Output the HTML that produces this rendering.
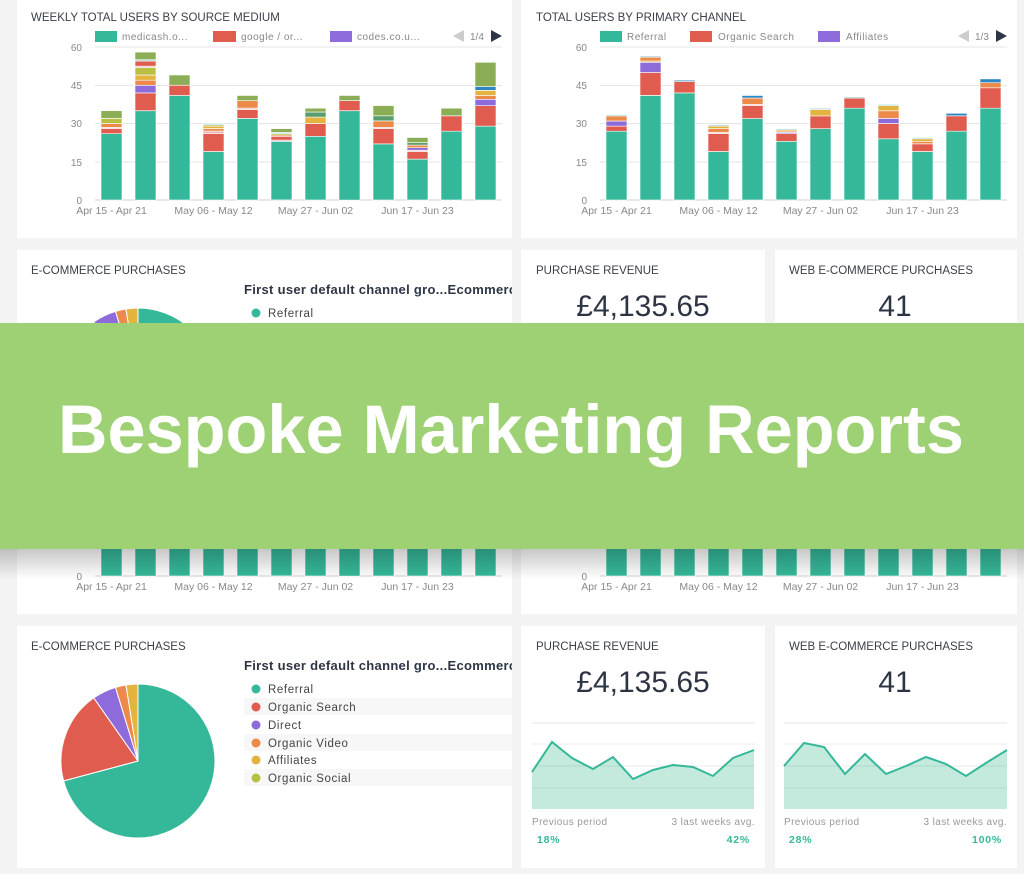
<!DOCTYPE html>
<html><head><meta charset="utf-8"><style>
html,body{margin:0;padding:0}
body{width:1024px;height:874px;overflow:hidden;background:#f3f3f3;position:relative;font-family:"Liberation Sans",sans-serif}
.copy{position:absolute;left:0;width:1024px;height:498px}
.copy svg{position:absolute;left:0;top:0;overflow:visible}
#banner{position:absolute;left:0;top:323px;width:1024px;height:226px;background:#9dd174}
#shadow{position:absolute;left:0;top:549px;width:1024px;height:30px;background:linear-gradient(rgba(0,0,0,0.22),rgba(0,0,0,0))}
</style></head><body>
<div class="copy" id="copyB" style="top:376px">
<svg width="1024" height="498" viewBox="0 0 1024 498" font-family="Liberation Sans, sans-serif">
<defs><clipPath id="cp3"><rect x="17" y="250" width="495" height="242"/></clipPath></defs>
<rect x="17" y="-30" width="495" height="268" fill="#fff"/>
<rect x="521" y="-30" width="496" height="268" fill="#fff"/>
<rect x="17" y="250" width="495" height="242" fill="#fff"/>
<rect x="521" y="250" width="244" height="242" fill="#fff"/>
<rect x="775" y="250" width="242" height="242" fill="#fff"/>
<g fill="#3a3f48" font-size="11.5">
<text x="31" y="21">WEEKLY TOTAL USERS BY SOURCE MEDIUM</text>
<text x="536" y="21">TOTAL USERS BY PRIMARY CHANNEL</text>
<text x="31" y="274">E-COMMERCE PURCHASES</text>
<text x="536" y="274">PURCHASE REVENUE</text>
<text x="789" y="274">WEB E-COMMERCE PURCHASES</text>
</g>
<g stroke="#e6e6e6">
<line x1="95" x2="502" y1="47" y2="47"/><line x1="95" x2="502" y1="85.5" y2="85.5"/><line x1="95" x2="502" y1="123.5" y2="123.5"/><line x1="95" x2="502" y1="162" y2="162"/>
<line x1="600" x2="1007" y1="47" y2="47"/><line x1="600" x2="1007" y1="85.5" y2="85.5"/><line x1="600" x2="1007" y1="123.5" y2="123.5"/><line x1="600" x2="1007" y1="162" y2="162"/>
</g>
<g stroke="#d0d0d0"><line x1="95" x2="502" y1="200" y2="200"/><line x1="600" x2="1007" y1="200" y2="200"/></g>
<g fill="#888" font-size="10" text-anchor="end">
<text x="82" y="51">60</text><text x="82" y="89">45</text><text x="82" y="127">30</text><text x="82" y="166">15</text><text x="82" y="204">0</text>
<text x="587" y="51">60</text><text x="587" y="89">45</text><text x="587" y="127">30</text><text x="587" y="166">15</text><text x="587" y="204">0</text>
</g>
<g fill="#888" font-size="10.5" text-anchor="middle">
<text x="111.5" y="214">Apr 15 - Apr 21</text><text x="213.5" y="214">May 06 - May 12</text><text x="315.5" y="214">May 27 - Jun 02</text><text x="417.5" y="214">Jun 17 - Jun 23</text>
<text x="616.5" y="214">Apr 15 - Apr 21</text><text x="718.5" y="214">May 06 - May 12</text><text x="820.5" y="214">May 27 - Jun 02</text><text x="922.5" y="214">Jun 17 - Jun 23</text>
</g>
<g font-size="10" fill="#888" letter-spacing="0.5">
<rect x="95" y="31" width="22" height="11" fill="#35b899"/><text x="122" y="40">medicash.o...</text>
<rect x="213" y="31" width="23" height="11" fill="#e05c4f"/><text x="241" y="40">google / or...</text>
<rect x="330" y="31" width="22" height="11" fill="#8e6bdb"/><text x="357" y="40">codes.co.u...</text>
<rect x="600" y="31" width="22" height="11" fill="#35b899"/><text x="627" y="40">Referral</text>
<rect x="690" y="31" width="22" height="11" fill="#e05c4f"/><text x="718" y="40">Organic Search</text>
<rect x="818" y="31" width="22" height="11" fill="#8e6bdb"/><text x="846" y="40">Affiliates</text>
<text x="470" y="40" letter-spacing="0">1/4</text><text x="975" y="40" letter-spacing="0">1/3</text>
</g>
<polygon points="453,36 464,30 464,42" fill="#ccc"/><polygon points="502,36 491,30 491,42" fill="#2d3545"/>
<polygon points="958,36 969,30 969,42" fill="#ccc"/><polygon points="1007,36 996,30 996,42" fill="#2d3545"/>
<g id="bars"></g>
<g stroke="#fff" stroke-width="1">
<path d="M138 385 L138 308 A77 77 0 1 1 63.6 404.9 Z" fill="#35b899"/>
<path d="M138 385 L63.6 404.9 A77 77 0 0 1 93.8 321.9 Z" fill="#e05c4f"/>
<path d="M138 385 L93.8 321.9 A77 77 0 0 1 115.5 311.4 Z" fill="#8e6bdb"/>
<path d="M138 385 L115.5 311.4 A77 77 0 0 1 126 309 Z" fill="#ec8a4a"/>
<path d="M138 385 L126 309 A77 77 0 0 1 138 308 Z" fill="#e3b440"/>
</g>
<g clip-path="url(#cp3)">
<rect x="244" y="322" width="268" height="17" fill="#f7f7f7"/>
<rect x="244" y="358" width="268" height="17" fill="#f7f7f7"/>
<rect x="244" y="393" width="268" height="17" fill="#f7f7f7"/>
<text x="244" y="294" font-size="13" font-weight="bold" fill="#2d3545" letter-spacing="0.3">First user default channel gro...Ecommerce</text>
<g font-size="11.5" fill="#444" letter-spacing="0.6">
<circle cx="256" cy="313" r="4.5" fill="#35b899"/><text x="268" y="317">Referral</text>
<circle cx="256" cy="331" r="4.5" fill="#e05c4f"/><text x="268" y="335">Organic Search</text>
<circle cx="256" cy="349" r="4.5" fill="#8e6bdb"/><text x="268" y="353">Direct</text>
<circle cx="256" cy="367" r="4.5" fill="#ec8a4a"/><text x="268" y="371">Organic Video</text>
<circle cx="256" cy="384" r="4.5" fill="#e3b440"/><text x="268" y="388">Affiliates</text>
<circle cx="256" cy="402" r="4.5" fill="#b8c043"/><text x="268" y="406">Organic Social</text>
</g></g>
<g font-size="30" fill="#2d3545" text-anchor="middle"><text x="643" y="316">£4,135.65</text><text x="895" y="316">41</text></g>
<g stroke="#e4e4e4"><line x1="532" x2="755" y1="347" y2="347"/><line x1="784" x2="1007" y1="347" y2="347"/></g>
<polygon points="532,433 532,396 552,366 572,382 593,393 613,381 633,403 653,394 673,389 693,391 713,400 733,382 754,374 754,433" fill="#c3eadd"/>
<polygon points="784,433 784,390 804,367 824,371 845,398 865,378 886,398 906,390 926,381 946,388 966,400 986,387 1007,374 1007,433" fill="#c3eadd"/>
<g stroke="rgba(0,0,0,0.08)"><line x1="532" x2="755" y1="368" y2="368"/><line x1="532" x2="755" y1="390" y2="390"/><line x1="532" x2="755" y1="412" y2="412"/>
<line x1="784" x2="1007" y1="368" y2="368"/><line x1="784" x2="1007" y1="390" y2="390"/><line x1="784" x2="1007" y1="412" y2="412"/></g>
<polyline points="532,396 552,366 572,382 593,393 613,381 633,403 653,394 673,389 693,391 713,400 733,382 754,374" fill="none" stroke="#35b899" stroke-width="2"/>
<polyline points="784,390 804,367 824,371 845,398 865,378 886,398 906,390 926,381 946,388 966,400 986,387 1007,374" fill="none" stroke="#35b899" stroke-width="2"/>
<g font-size="10" fill="#999" letter-spacing="0.4">
<text x="532" y="449">Previous period</text><text x="755" y="449" text-anchor="end">3 last weeks avg.</text>
<text x="784" y="449">Previous period</text><text x="1007" y="449" text-anchor="end">3 last weeks avg.</text>
</g>
<g font-size="10.5" font-weight="bold" fill="#35b899" letter-spacing="0.8">
<text x="537" y="467">18%</text><text x="750" y="467" text-anchor="end">42%</text>
<text x="789" y="467">28%</text><text x="1002" y="467" text-anchor="end">100%</text>
</g>
</svg>
</div>
<div id="banner"></div>
<div id="shadow"></div>
<svg style="position:absolute;left:0;top:0" width="1024" height="874"><text x="511" y="453" text-anchor="middle" font-family="Liberation Sans, sans-serif" font-weight="bold" font-size="68.5" fill="#fff">Bespoke Marketing Reports</text></svg>
<script>
var C={t:"#35b899",r:"#e05c4f",p:"#8e6bdb",o:"#ec8a4a",y:"#e3b440",g:"#b8c043",v:"#8aad55",b:"#2c86c4",k:"#e8b3b8",l:"#9fd3d8",d:"#5a9e6e"};
var L=[[["t",26],["r",2],["k",.5],["o",1.5],["g",2],["v",3]],
[["t",35],["r",7],["p",3],["o",2],["y",2],["g",3],["k",.5],["r",2],["l",.5],["v",3]],
[["t",41],["r",4],["v",4]],
[["t",19],["r",7],["k",1],["o",1],["y",1],["g",.5],["l",.5]],
[["t",32],["r",3.5],["k",.5],["o",3],["v",2]],
[["t",23],["k",.5],["r",1.5],["o",.5],["g",.5],["l",.5],["v",1.5]],
[["t",25],["r",5],["y",2.5],["d",2],["v",1.5]],
[["t",35],["r",4],["v",2]],
[["t",22],["r",6],["k",.5],["o",2.5],["d",2],["v",4]],
[["t",16],["r",3],["k",.5],["p",1],["o",1],["d",1],["v",2]],
[["t",27],["r",6],["v",3]],
[["t",29],["r",8],["p",2.5],["o",1.5],["y",2],["b",1.5],["v",9.5]]];
var R=[[["t",27],["r",2],["p",2],["o",2],["l",.5]],
[["t",41],["r",9],["p",4],["y",.5],["o",1.5],["l",.5]],
[["t",42],["r",4.5],["b",.5]],
[["t",19],["r",7],["k",.5],["o",1.5],["y",1],["l",.5]],
[["t",32],["r",5],["k",.5],["o",2.5],["b",1]],
[["t",23],["r",3],["p",.5],["o",.5],["y",.5],["l",.5]],
[["t",28],["r",5],["y",2.5],["l",.5]],
[["t",36],["r",4],["l",.5]],
[["t",24],["r",6],["p",2],["o",3],["y",2],["l",.5]],
[["t",19],["r",3],["o",1],["y",1],["l",.5]],
[["t",27],["r",6],["b",1]],
[["t",36],["r",8],["o",2],["b",1.5]]];
var g=document.getElementById("bars"),s="";
function draw(D,x0){D.forEach(function(b,i){var y=200,x=x0+i*34;b.forEach(function(sg){var h=sg[1]*2.55;y-=h;s+='<rect x="'+x+'" y="'+y.toFixed(1)+'" width="21" height="'+h.toFixed(1)+'" fill="'+C[sg[0]]+'" stroke="#fff" stroke-width="0.6"/>';});});}
draw(L,101);draw(R,606);g.innerHTML=s;
var A=document.getElementById("copyB").cloneNode(true);A.id="copyA";A.style.top="0px";
document.body.insertBefore(A,document.getElementById("banner"));
</script>
</body></html>
